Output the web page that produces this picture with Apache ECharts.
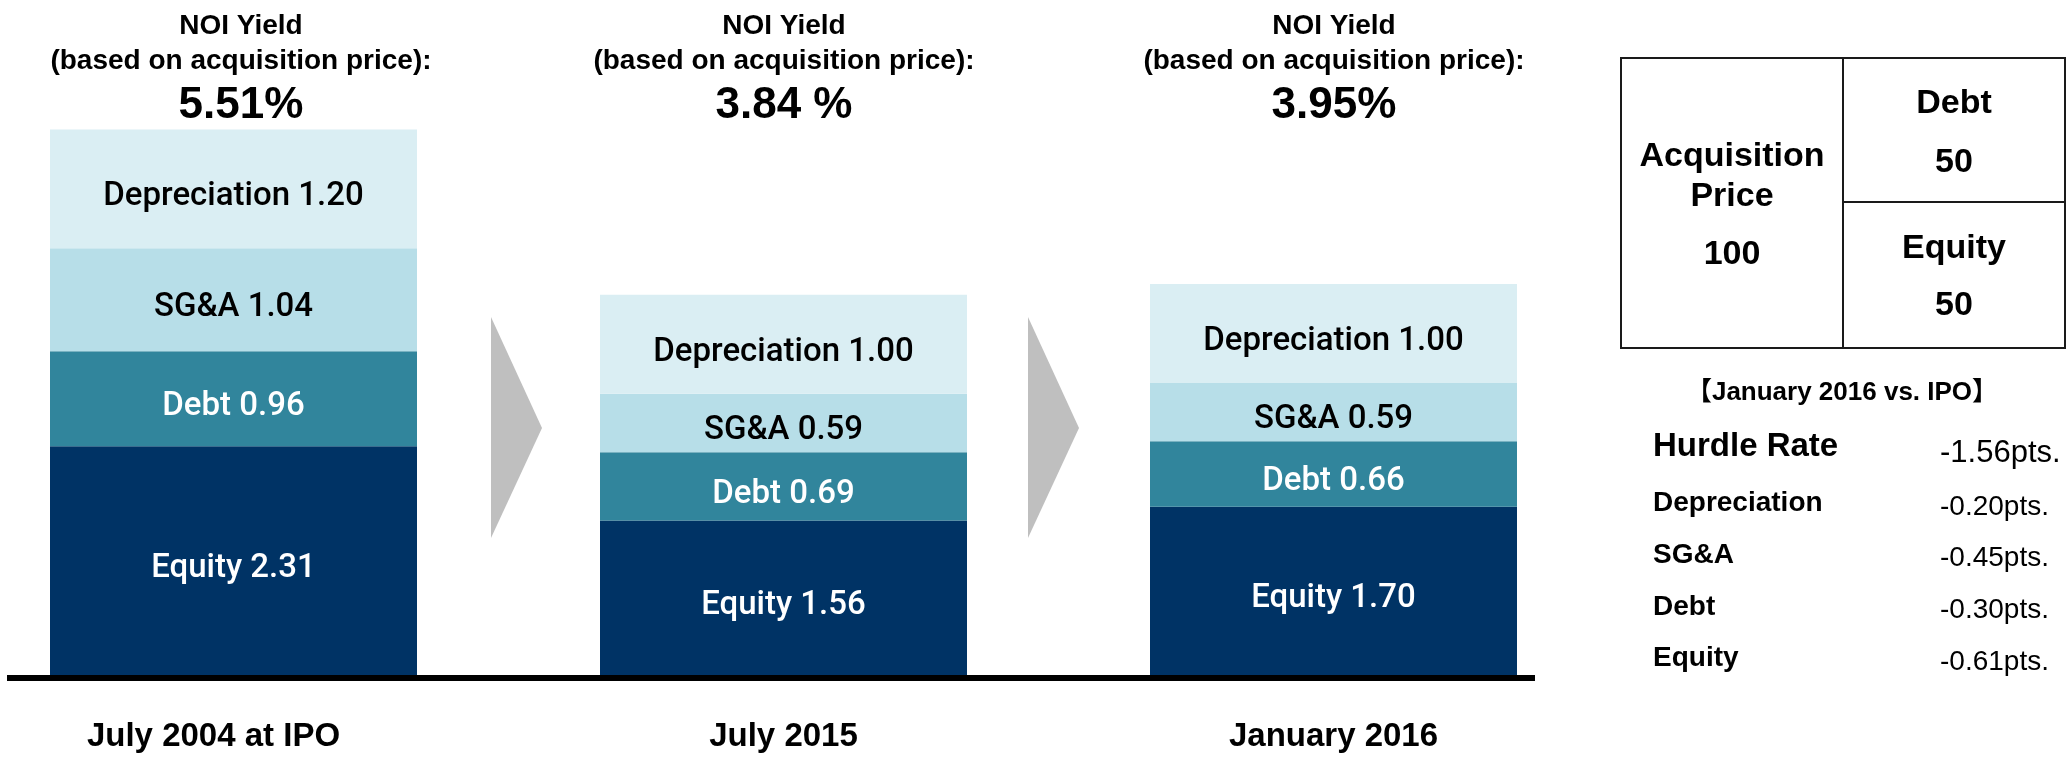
<!DOCTYPE html>
<html>
<head>
<meta charset="utf-8">
<title>NOI Yield vs Hurdle Rate</title>
<script src="https://cdn.jsdelivr.net/npm/echarts@6/dist/echarts.min.js"></script>
<style>
  html, body { margin: 0; padding: 0; background: #fff; }
  #chart { width: 2071px; height: 757px; }
</style>
</head>
<body>
<div id="chart"></div>
<script>
// data
var periods = ['July 2004 at IPO', 'July 2015', 'January 2016'];
var equity = [2.31, 1.56, 1.70];
var debt = [0.96, 0.69, 0.66];
var sga = [1.04, 0.59, 0.59];
var depreciation = [1.20, 1.00, 1.00];
var noiYield = ['5.51%', '3.84 %', '3.95%'];

var acquisition = { price: 100, debt: 50, equity: 50 };
var hurdleNames = ['Hurdle Rate', 'Depreciation', 'SG&A', 'Debt', 'Equity'];
var hurdleChanges = ['-1.56pts.', '-0.20pts.', '-0.45pts.', '-0.30pts.', '-0.61pts.'];

var FONT = "'Liberation Sans', Arial, 'Noto Sans CJK JP', sans-serif";
var BAR_FONT = "Roboto, 'Liberation Sans', Arial, sans-serif";

var chart = echarts.init(document.getElementById('chart'));

function barSeries(name, values, color, textColor) {
	return {
		name: name,
		type: 'bar',
		stack: 'noi',
		barWidth: 367,
		clip: false,
		data: values,
		itemStyle: { color: color },
		label: {
			show: true,
			position: 'inside',
			offset: [0, 8],
			color: textColor,
			fontFamily: BAR_FONT,
			fontWeight: 500,
			fontSize: 33,
			formatter: function (p) {
				return p.seriesName + ' ' + p.value.toFixed(2);
			}
		},
		silent: true
	};
}

// titles above the bars, arrows and the table on the right
var titleX = [241, 784, 1334];
var graphics = [];
titleX.forEach(function (x, i) {
	graphics.push({
		type: 'text', x: x, y: 26,
		style: { text: 'NOI Yield', font: 'bold 28px ' + FONT, fill: '#000', align: 'center', verticalAlign: 'middle' }
	});
	graphics.push({
		type: 'text', x: x, y: 61,
		style: { text: '(based on acquisition price):', font: 'bold 28px ' + FONT, fill: '#000', align: 'center', verticalAlign: 'middle' }
	});
	graphics.push({
		type: 'text', x: x, y: 106,
		style: { text: noiYield[i], font: 'bold 44px ' + FONT, fill: '#000', align: 'center', verticalAlign: 'middle' }
	});
});

// baseline under the bars
graphics.push({ type: 'line', shape: { x1: 7, y1: 678, x2: 1535, y2: 678 }, style: { stroke: '#000', lineWidth: 6 }, z: 10 });

// grey chevrons between the bars
[491, 1028].forEach(function (x) {
	graphics.push({
		type: 'polygon',
		shape: { points: [[x, 317], [x + 51, 428], [x, 538]] },
		style: { fill: '#bfbfbf' }
	});
});

// acquisition price box
graphics.push({ type: 'rect', shape: { x: 1621, y: 58, width: 444, height: 290 }, style: { fill: 'none', stroke: '#1a1a1a', lineWidth: 2 } });
graphics.push({ type: 'line', shape: { x1: 1843, y1: 58, x2: 1843, y2: 348 }, style: { stroke: '#1a1a1a', lineWidth: 2 } });
graphics.push({ type: 'line', shape: { x1: 1843, y1: 202, x2: 2065, y2: 202 }, style: { stroke: '#1a1a1a', lineWidth: 2 } });

var boxTexts = [
	['Acquisition', 1732, 157],
	['Price', 1732, 197],
	[String(acquisition.price), 1732, 255],
	['Debt', 1954, 104],
	[String(acquisition.debt), 1954, 163],
	['Equity', 1954, 249],
	[String(acquisition.equity), 1954, 306]
];
boxTexts.forEach(function (t) {
	graphics.push({
		type: 'text', x: t[1], y: t[2],
		style: { text: t[0], font: 'bold 34px ' + FONT, fill: '#000', align: 'center', verticalAlign: 'middle' }
	});
});

graphics.push({
	type: 'text', x: 1842, y: 393,
	style: { text: '【January 2016 vs. IPO】', font: 'bold 26px ' + FONT, fill: '#000', align: 'center', verticalAlign: 'middle' }
});

var rowNameY = [447, 503, 555, 607, 658];
var rowValY = [453, 507, 558, 610, 662];
hurdleNames.forEach(function (name, i) {
	graphics.push({
		type: 'text', x: 1653, y: rowNameY[i],
		style: { text: name, font: 'bold ' + (i === 0 ? 33 : 28) + 'px ' + FONT, fill: '#000', align: 'left', verticalAlign: 'middle' }
	});
	graphics.push({
		type: 'text', x: 1940, y: rowValY[i],
		style: { text: hurdleChanges[i], font: (i === 0 ? 31 : 28) + 'px ' + FONT, fill: '#000', align: 'left', verticalAlign: 'middle' }
	});
});

var option = {
	animation: false,
	backgroundColor: '#fff',
	// bar centres sit on the grid edges (boundaryGap false)
	grid: {
		left: 233.5,
		right: 737.5,
		top: 81,
		bottom: 82
	},
	xAxis: {
		type: 'category',
		data: periods,
		boundaryGap: false,
		axisLine: { show: false },
		axisTick: { show: false },
		splitLine: { show: false },
		axisLabel: {
			interval: 0,
			margin: 45,
			formatter: function (v, i) {
				return i === 0 ? '{first|' + v + '}' : v;
			},
			color: '#000',
			fontFamily: FONT,
			fontWeight: 'bold',
			fontSize: 33,
			rich: {
				first: { fontFamily: FONT, fontWeight: 'bold', fontSize: 33, color: '#000', padding: [0, 40, 0, 0] }
			}
		}
	},
	yAxis: {
		type: 'value',
		min: 0,
		max: 6,
		show: false
	},
	series: [
		barSeries('Equity', equity, '#003365', '#fff'),
		barSeries('Debt', debt, '#31859c', '#fff'),
		barSeries('SG&A', sga, '#b7dee8', '#000'),
		barSeries('Depreciation', depreciation, '#daeef3', '#000')
	],
	graphic: graphics
};

chart.setOption(option);

window.addEventListener('resize', function () {
	chart.resize();
});
</script>
</body>
</html>
